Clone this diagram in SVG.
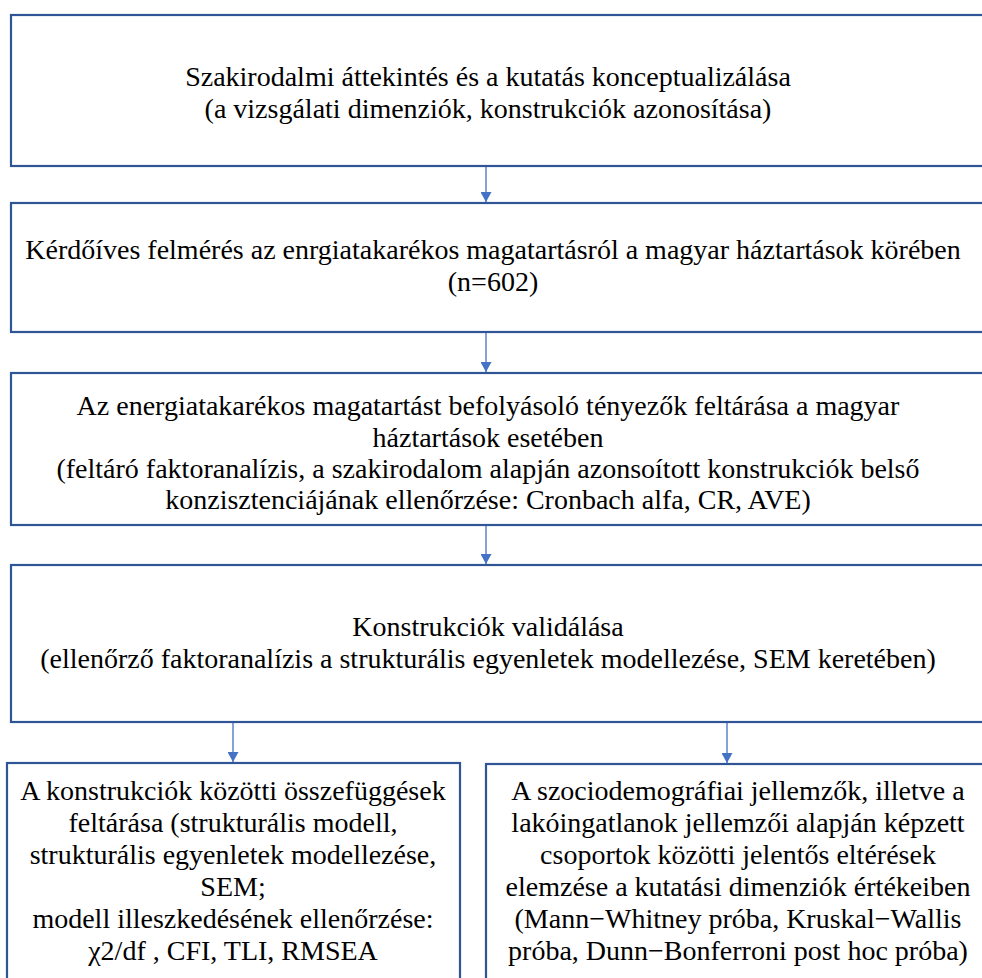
<svg xmlns="http://www.w3.org/2000/svg" width="982" height="978" viewBox="0 0 982 978">
<style>
.box{fill:#ffffff;stroke:#2F5597;stroke-width:2.2}
.t{font-family:"Liberation Serif","Times New Roman",Times,Tinos,"Noto Serif","DejaVu Serif",FreeSerif,serif;font-size:28px;fill:#000000;text-anchor:middle}
.c{stroke:#4472C4;stroke-width:1.3;fill:none}
</style>
<defs>
<marker id="ah" viewBox="0 0 10 11" refX="10" refY="5.5" markerWidth="10" markerHeight="11" markerUnits="userSpaceOnUse" orient="auto">
<path d="M0,0 L10,5.5 L0,11 z" fill="#4472C4"/>
</marker>
</defs>
<rect width="982" height="978" fill="#ffffff"/>
<g id="connectors">
<line class="c" x1="486" y1="167" x2="486" y2="202" marker-end="url(#ah)"/>
<line class="c" x1="486" y1="333" x2="486" y2="372" marker-end="url(#ah)"/>
<line class="c" x1="486" y1="526" x2="486" y2="564" marker-end="url(#ah)"/>
<line class="c" x1="233" y1="723" x2="233" y2="762" marker-end="url(#ah)"/>
<line class="c" x1="727" y1="723" x2="727" y2="763" marker-end="url(#ah)"/>
</g>
<g id="node1">
<rect class="box" x="11" y="15" width="990" height="151"/>
<text class="t" x="488" y="86">Szakirodalmi áttekintés és a kutatás konceptualizálása</text>
<text class="t" x="488" y="118">(a vizsgálati dimenziók, konstrukciók azonosítása)</text>
</g>
<g id="node2">
<rect class="box" x="11" y="203" width="990" height="129"/>
<text class="t" x="493" y="259">Kérdőíves felmérés az enrgiatakarékos magatartásról a magyar háztartások körében</text>
<text class="t" x="493" y="291">(n=602)</text>
</g>
<g id="node3">
<rect class="box" x="11" y="373" width="990" height="152"/>
<text class="t" x="488" y="415">Az energiatakarékos magatartást befolyásoló tényezők feltárása a magyar</text>
<text class="t" x="488" y="446.5">háztartások esetében</text>
<text class="t" x="488" y="478">(feltáró faktoranalízis, a szakirodalom alapján azonsoított konstrukciók belső</text>
<text class="t" x="488" y="509">konzisztenciájának ellenőrzése: Cronbach alfa, CR, AVE)</text>
</g>
<g id="node4">
<rect class="box" x="11" y="565" width="990" height="157"/>
<text class="t" x="488" y="636">Konstrukciók validálása</text>
<text class="t" x="488" y="668">(ellenőrző faktoranalízis a strukturális egyenletek modellezése, SEM keretében)</text>
</g>
<g id="node5">
<rect class="box" x="7" y="763" width="453" height="240"/>
<text class="t" x="233" y="800">A konstrukciók közötti összefüggések</text>
<text class="t" x="233" y="832">feltárása (strukturális modell,</text>
<text class="t" x="233" y="864">strukturális egyenletek modellezése,</text>
<text class="t" x="233" y="896">SEM;</text>
<text class="t" x="233" y="928">modell illeszkedésének ellenőrzése:</text>
<text class="t" x="233" y="960">χ2/df , CFI, TLI, RMSEA</text>
</g>
<g id="node6">
<rect class="box" x="486" y="764" width="510" height="240"/>
<text class="t" x="738" y="800">A szociodemográfiai jellemzők, illetve a</text>
<text class="t" x="738" y="832">lakóingatlanok jellemzői alapján képzett</text>
<text class="t" x="738" y="864">csoportok közötti jelentős eltérések</text>
<text class="t" x="738" y="896">elemzése a kutatási dimenziók értékeiben</text>
<text class="t" x="738" y="928">(Mann−Whitney próba, Kruskal−Wallis</text>
<text class="t" x="738" y="960">próba, Dunn−Bonferroni post hoc próba)</text>
</g>
</svg>
